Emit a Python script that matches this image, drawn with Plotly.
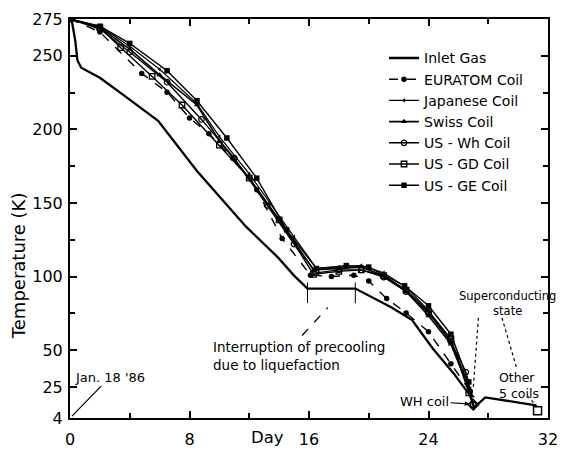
import plotly.graph_objects as go

# ---------------- data ----------------
inlet_days = [0, 0.1, 0.35, 0.5, 0.75, 2.0, 3.7, 5.9, 8.5, 10.0, 11.8, 13.9, 15.0, 15.9, 19.1, 21.5, 22.9, 24.3, 25.7, 26.8, 27.05, 27.8, 29.5, 31.2]
inlet_temps = [275, 275, 260.4, 246.8, 241.9, 235.1, 222.4, 205.9, 171.8, 154.3, 133.8, 113.3, 100.7, 91.9, 91.9, 79.2, 70.5, 51, 34.1, 19, 11, 18, 15.5, 12.6]

euratom_days = [0, 2, 4.8, 6.5, 8, 9.3, 10.9, 12.5, 14.2, 16.1, 17.5, 19, 20, 21.2, 22.5, 24, 25.5, 26.8]
euratom_temps = [275, 266.2, 238, 225.3, 207.8, 197.1, 180.5, 159.1, 126, 101, 100.1, 101, 97.1, 85.1, 75.3, 62.6, 40.8, 22]

japanese_days = [0, 2, 4, 6, 8.5, 10, 12, 15, 16.5, 18, 19.5, 21, 22.5, 24, 25.5, 26.8]
japanese_temps = [275, 270.1, 256.5, 240.9, 217.5, 195.1, 169.8, 127, 105.6, 106.6, 107.6, 102.7, 92.9, 77.1, 55.8, 24]

swiss_days = [0, 2, 4, 6, 8.5, 10, 12, 14, 16.3, 18, 19.5, 21, 22.5, 24, 25.5, 26.9]
swiss_temps = [275, 269.2, 254.5, 237, 216.6, 192.2, 166.9, 138.6, 104.6, 105.5, 106.5, 100.7, 89.9, 73.4, 54.2, 19]

uswh_days = [0, 2, 4, 6.5, 8.8, 11, 13.2, 15, 16.5, 18, 19.5, 21, 22.5, 24, 25.5, 26.5, 27]
uswh_temps = [275, 268.2, 252.6, 232.1, 206.8, 180.5, 148.4, 122.1, 102.6, 104.6, 104.6, 99.7, 89.9, 75.3, 55.8, 35.2, 13]

usgd_days = [0, 2, 3.4, 5.5, 7.5, 10, 12, 14, 16.3, 18, 19.5, 21, 22.5, 24, 25.5, 26.7]
usgd_temps = [275, 269.2, 255.5, 236, 216.6, 189.3, 166.9, 138.6, 101.6, 103.6, 104.6, 100.7, 90.9, 76.3, 57.8, 21]

usge_days = [0, 2, 4, 6.5, 8.5, 10.5, 12.5, 14.5, 16.5, 18.5, 20, 22.4, 24, 25.5, 26.7]
usge_temps = [275, 270.1, 258.4, 239.9, 219.5, 194.2, 166.9, 131.8, 105.5, 107.5, 106.5, 93.8, 80.2, 60.9, 28.5]

# superconducting transition points (WH coil, other 5 coils)
sc_days = [27.0, 31.3]
sc_temps = [13, 9]

# interruption of precooling (start / end days)
interrupt_days = [15.9, 19.1]

x_ticks = [0, 8, 16, 24, 32]
x_minor = [4, 12, 20, 28]
y_ticks = [4, 25, 50, 100, 150, 200, 250, 275]
y_minor = [75, 125, 175, 225]

FONT = "DejaVu Sans"

fig = go.Figure()

fig.add_trace(go.Scatter(x=inlet_days, y=inlet_temps, mode="lines", name="Inlet Gas",
                         line=dict(color="black", width=2.3)))
fig.add_trace(go.Scatter(x=euratom_days, y=euratom_temps, mode="lines+markers", name="EURATOM Coil",
                         line=dict(color="black", width=1.4, dash="dash"),
                         marker=dict(symbol="circle", size=5.5, color="black")))
fig.add_trace(go.Scatter(x=japanese_days, y=japanese_temps, mode="lines+markers", name="Japanese Coil",
                         line=dict(color="black", width=1.2),
                         marker=dict(symbol="triangle-left", size=4, color="black")))
fig.add_trace(go.Scatter(x=swiss_days, y=swiss_temps, mode="lines+markers", name="Swiss Coil",
                         line=dict(color="black", width=1.6),
                         marker=dict(symbol="triangle-up", size=5.5, color="black")))
fig.add_trace(go.Scatter(x=uswh_days, y=uswh_temps, mode="lines+markers", name="US - Wh Coil",
                         line=dict(color="black", width=1.4),
                         marker=dict(symbol="circle-open", size=5.5, color="black", line=dict(width=1.3))))
fig.add_trace(go.Scatter(x=usgd_days, y=usgd_temps, mode="lines+markers", name="US - GD Coil",
                         line=dict(color="black", width=1.4),
                         marker=dict(symbol="square-open", size=5.5, color="black", line=dict(width=1.3))))
fig.add_trace(go.Scatter(x=usge_days, y=usge_temps, mode="lines+markers", name="US - GE Coil",
                         line=dict(color="black", width=1.4),
                         marker=dict(symbol="square", size=5.5, color="black")))
fig.add_trace(go.Scatter(x=sc_days, y=sc_temps, mode="markers", showlegend=False,
                         marker=dict(symbol=["diamond-open", "square-open"], size=8, color="black",
                                     line=dict(width=1.5))))

# interruption marks
for d in interrupt_days:
    fig.add_shape(type="line", x0=d, x1=d, y0=82, y1=96, xref="x", yref="y",
                  line=dict(color="black", width=1))

# dashed pointer from interruption text to plateau
fig.add_shape(type="line", x0=15.54, y0=60, x1=17.25, y1=79, xref="x", yref="y",
              line=dict(color="black", width=1.3, dash="dash"))
# dotted pointers from "Superconducting state"
fig.add_shape(type="line", x0=27.34, y0=72, x1=27.0, y1=25, xref="x", yref="y",
              line=dict(color="black", width=1.2, dash="dot"))
fig.add_shape(type="line", x0=28.92, y0=72, x1=29.9, y1=38, xref="x", yref="y",
              line=dict(color="black", width=1.2, dash="dot"))
fig.add_shape(type="line", x0=30.62, y0=19, x1=31.25, y1=12, xref="x", yref="y",
              line=dict(color="black", width=1.2, dash="dot"))

annos = [
    dict(x=0.13, y=5.3, xref="x", yref="y", text="Jan. 18 '86", showarrow=True,
         ax=38, ay=-39, arrowhead=0, arrowwidth=1.2, arrowcolor="black",
         font=dict(family=FONT, size=13, color="black")),
    dict(x=9.47, y=46, xref="x", yref="y", text="Interruption of precooling<br>due to liquefaction",
         showarrow=False, xanchor="left", yanchor="middle", align="left",
         font=dict(family=FONT, size=13.5, color="black")),
    dict(x=29.3, y=82, xref="x", yref="y", text="Superconducting<br>state", showarrow=False,
         font=dict(family=FONT, size=11.5, color="black")),
    dict(x=28.6, y=26, xref="x", yref="y", text="Other<br>5 coils", showarrow=False,
         xanchor="left", align="left",
         font=dict(family=FONT, size=12.5, color="black")),
    dict(x=26.75, y=13.5, xref="x", yref="y", text="WH coil", showarrow=True,
         ax=-45, ay=-3, arrowhead=2, arrowsize=0.8, arrowwidth=1.2, arrowcolor="black",
         font=dict(family=FONT, size=13, color="black")),
    dict(x=0.414, y=-0.0484, xref="paper", yref="paper", text="Day", showarrow=False,
         yanchor="middle", font=dict(family=FONT, size=16.5, color="black")),
    dict(x=-0.1076, y=0.382, xref="paper", yref="paper", text="Temperature (K)", showarrow=False,
         textangle=-90, yanchor="middle", xanchor="center",
         font=dict(family=FONT, size=18, color="black")),
]
fig.update_layout(annotations=annos)

fig.update_xaxes(range=[0, 32], tickvals=x_ticks, ticktext=[str(v) for v in x_ticks],
                 ticks="inside", ticklen=7, tickwidth=1.5, tickcolor="black",
                 minor=dict(tickvals=x_minor, ticks="inside", ticklen=5, tickcolor="black"),
                 showline=True, linecolor="black", linewidth=2, mirror="allticks",
                 showgrid=False, zeroline=False, ticklabelstandoff=6,
                 ticklabeloverflow="allow",
                 tickfont=dict(family=FONT, size=16, color="black"))
fig.update_yaxes(range=[4, 275], tickvals=y_ticks, ticktext=[str(v) for v in y_ticks],
                 ticks="inside", ticklen=7, tickwidth=1.5, tickcolor="black",
                 minor=dict(tickvals=y_minor, ticks="inside", ticklen=5, tickcolor="black"),
                 showline=True, linecolor="black", linewidth=2, mirror="allticks",
                 showgrid=False, zeroline=False, ticklabelstandoff=2,
                 ticklabeloverflow="allow",
                 tickfont=dict(family=FONT, size=16, color="black"))

fig.update_layout(
    width=568, height=459,
    margin=dict(l=70, r=10, t=17, b=29),
    paper_bgcolor="white", plot_bgcolor="white",
    font=dict(family=FONT, color="black"),
    legend=dict(x=0.657, y=0.9414, xanchor="left", yanchor="top", bgcolor="rgba(0,0,0,0)",
                font=dict(family=FONT, size=14, color="black"), itemwidth=30,
                tracegroupgap=0),
)

fig.write_html("out.html", config={"displayModeBar": False},
               post_script="document.body.style.margin='0';")
